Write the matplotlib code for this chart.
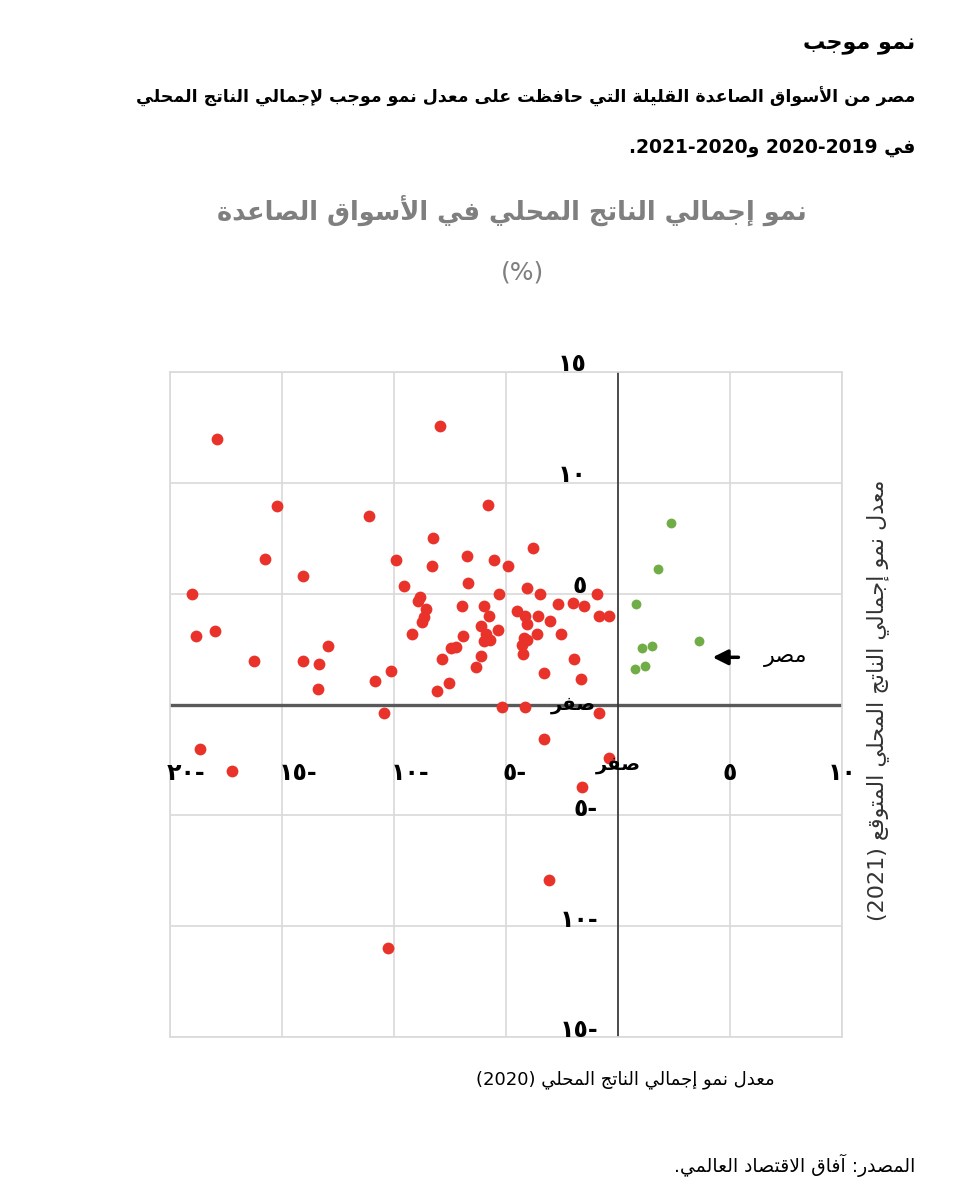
import re
import matplotlib
matplotlib.use('Agg')
import matplotlib.pyplot as plt

plt.rcParams['font.family'] = ['DejaVu Sans']

# ---- data ----
red_x = [-17.9, -7.95, -15.2, -11.1, -5.8, -8.25, -15.75, -9.9, -8.3, -6.75,
         -5.55, -4.9, -3.8, -14.05, -19.0, -9.55, -6.7, -5.3, -4.05, -3.5,
         -2.7, -2.0, -1.5, -0.95, -0.85, -0.4, -8.85, -8.95, -8.55, -8.65,
         -8.75, -6.95, -6.0, -5.75, -4.5, -4.15, -3.55, -4.05, -3.05, -9.2,
         -6.1, -5.35, -3.6, -2.55, -18.0, -18.85, -12.95, -6.9, -5.9, -6.0,
         -5.7, -4.2, -4.3, -4.05, -7.45, -7.25, -4.25, -7.85, -6.1, -16.25,
         -14.05, -13.35, -1.95, -6.35, -10.15, -10.85, -3.3, -1.65, -13.4, -7.55,
         -8.1, -5.2, -4.15, -0.85, -10.45, -18.65, -17.25, -3.3, -0.4, -1.6,
         -3.1, -10.25]
red_y = [12.0, 12.55, 8.95, 8.5, 9.0, 7.5, 6.55, 6.5, 6.25, 6.7,
         6.5, 6.25, 7.05, 5.8, 5.0, 5.35, 5.5, 5.0, 5.25, 5.0,
         4.55, 4.6, 4.45, 5.0, 4.0, 4.0, 4.85, 4.65, 4.3, 3.95,
         3.7, 4.45, 4.45, 4.0, 4.2, 4.0, 4.0, 3.65, 3.75, 3.2,
         3.55, 3.35, 3.2, 3.2, 3.3, 3.1, 2.65, 3.1, 3.2, 2.85,
         2.9, 3.0, 2.7, 2.9, 2.55, 2.6, 2.3, 2.05, 2.2, 1.95,
         1.95, 1.85, 2.05, 1.7, 1.5, 1.05, 1.4, 1.15, 0.7, 0.95,
         0.6, -0.1, -0.1, -0.4, -0.4, -2.0, -3.0, -1.55, -2.4, -3.7,
         -7.9, -11.0]
green_x = [2.35, 1.8, 0.8, 3.6, 1.05, 1.5, 0.75, 1.2]
green_y = [8.2, 6.1, 4.55, 2.85, 2.55, 2.65, 1.6, 1.75]

x_ticks = [-20, -15, -10, -5, 0, 5, 10]
x_tick_labels = ['٢٠-', '١٥-', '١٠-', '٥-', 'صفر', '٥', '١٠']
y_ticks = [15, 10, 5, 0, -5, -10, -15]
y_tick_labels = ['١٥', '١٠', '٥', 'صفر', '٥-', '١٠-', '١٥-']

egypt_y = 2.13

# ---- minimal arabic shaping + visual ordering ----
_letters = ([(0x0621, 1)] + [(c, 2) for c in range(0x0622, 0x0626)]
            + [(0x0626, 4), (0x0627, 2), (0x0628, 4), (0x0629, 2)]
            + [(c, 4) for c in range(0x062A, 0x062F)]
            + [(c, 2) for c in range(0x062F, 0x0633)]
            + [(c, 4) for c in range(0x0633, 0x063B)]
            + [(c, 4) for c in range(0x0641, 0x0648)]
            + [(0x0648, 2), (0x0649, 2), (0x064A, 4)])
FORMS = {}
_b = 0xFE80
for _c, _n in _letters:
    FORMS[chr(_c)] = (_b, _n)
    _b += _n
LAMALEF = {'\u0622': 0xFEF5, '\u0623': 0xFEF7, '\u0625': 0xFEF9, '\u0627': 0xFEFB}
MIRROR = {'(': ')', ')': '('}


def shape(s):
    out = []
    i = 0
    while i < len(s):
        ch = s[i]
        if ch not in FORMS:
            out.append(ch)
            i += 1
            continue
        prev = s[i - 1] if i > 0 else ''
        p = prev in FORMS and FORMS[prev][1] == 4 and ch != '\u0621'
        if ch == '\u0644' and i + 1 < len(s) and s[i + 1] in LAMALEF:
            out.append(chr(LAMALEF[s[i + 1]] + (1 if p else 0)))
            i += 2
            continue
        base, cnt = FORMS[ch]
        nx = i + 1 < len(s) and s[i + 1] in FORMS and s[i + 1] != '\u0621'
        if cnt == 4:
            idx = {(False, False): 0, (True, False): 1,
                   (False, True): 2, (True, True): 3}[(p, nx)]
        elif cnt == 2:
            idx = 1 if p else 0
        else:
            idx = 0
        out.append(chr(base + idx))
        i += 1
    return ''.join(out)


def ar(s):
    parts = re.split(r'([0-9]+)', shape(s))
    vis = []
    for part in reversed(parts):
        if re.fullmatch(r'[0-9]+', part):
            vis.append(part)
        else:
            vis.append(''.join(MIRROR.get(c, c) for c in reversed(part)))
    return ''.join(vis)


# ---- figure ----
fig = plt.figure(figsize=(9.74, 12), dpi=100)
ax = fig.add_axes([0.1745, 0.1358, 0.69, 0.5542])

ax.set_xlim(-20, 10)
ax.set_ylim(-15, 15)
ax.set_xticks(x_ticks)
ax.set_yticks(y_ticks)
ax.grid(True, color='#d9d9d9', lw=1.2)
ax.tick_params(length=0, labelbottom=False, labelleft=False)
for sp in ax.spines.values():
    sp.set_color('#d9d9d9')
    sp.set_linewidth(1.2)
ax.axhline(0, color='#595959', lw=2.4, zorder=2)
ax.axvline(0, color='#333333', lw=1.2, zorder=2)

ax.scatter(red_x, red_y, s=72, color='#e8322a', zorder=3, linewidths=0)
ax.scatter(green_x, green_y, s=50, color='#70ad47', zorder=3, linewidths=0)

# tick labels drawn inside the plot, next to the zero axes
for v, lab in zip(x_ticks, x_tick_labels):
    if v < 0:
        ax.text(v - 0.15, -3.1, lab, ha='left', va='center', fontsize=17, fontweight='bold')
    elif v == 0:
        ax.text(v, -2.7, ar(lab), ha='center', va='center', fontsize=14, fontweight='bold')
    else:
        ax.text(v, -3.1, lab, ha='center', va='center', fontsize=17, fontweight='bold')
for v, lab in zip(y_ticks, y_tick_labels):
    if v == 0:
        ax.text(-1.0, 0, ar(lab), ha='right', va='center', fontsize=14, fontweight='bold')
    elif v > 0:
        ax.text(-1.4, v + 0.35, lab, ha='right', va='center', fontsize=17, fontweight='bold')
    else:
        ax.text(-0.9, v + 0.3, lab, ha='right', va='center', fontsize=17, fontweight='bold')

# Egypt annotation
ax.annotate('', xy=(4.1, egypt_y), xytext=(5.5, egypt_y),
            arrowprops=dict(arrowstyle='-|>,head_length=0.9,head_width=0.45', color='black', lw=2.5))
ax.text(7.5, egypt_y, ar('مصر'), ha='center', va='center', fontsize=16)

# titles and notes
fig.text(0.9394, 0.9625, ar('نمو موجب'), ha='right', va='center', fontsize=16, fontweight='bold')
fig.text(0.9394, 0.919, ar('مصر من الأسواق الصاعدة القليلة التي حافظت على معدل نمو موجب لإجمالي الناتج المحلي'),
         ha='right', va='center', fontsize=12.5, fontweight='bold')
fig.text(0.9394, 0.877, ar('في 2019-2020 و2020-2021.'), ha='right', va='center', fontsize=13.5, fontweight='bold')
fig.text(0.5257, 0.825, ar('نمو إجمالي الناتج المحلي في الأسواق الصاعدة'), ha='center', va='center',
         fontsize=18.5, fontweight='bold', color='#7f7f7f')
fig.text(0.536, 0.7733, '(%)', ha='center', va='center', fontsize=18, color='#7f7f7f')
fig.text(0.6417, 0.1, ar('معدل نمو إجمالي الناتج المحلي (2020)'), ha='center', va='center', fontsize=13)
fig.text(0.9014, 0.4167, ar('معدل نمو إجمالي الناتج المحلي المتوقع (2021)'), ha='center', va='center',
         fontsize=16, rotation=90, color='#333333')
fig.text(0.9394, 0.029, ar('المصدر: آفاق الاقتصاد العالمي.'), ha='right', va='center', fontsize=13.5)

fig.savefig('out.png', dpi=100)
